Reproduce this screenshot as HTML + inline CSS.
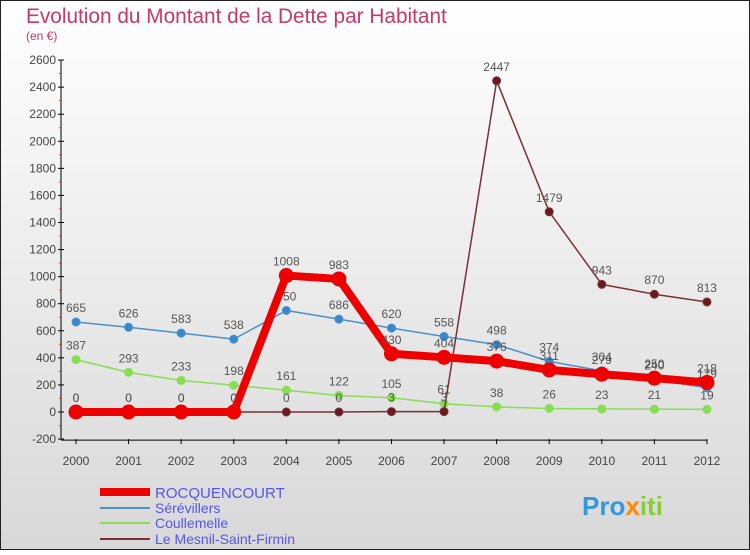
<!DOCTYPE html>
<html><head><meta charset="utf-8"><style>
body{margin:0;width:750px;height:550px;overflow:hidden;font-family:"Liberation Sans",sans-serif}
svg text{font-family:"Liberation Sans",sans-serif}
</style></head><body>
<svg width="750" height="550">
<defs><linearGradient id="bg" x1="0" y1="0" x2="0" y2="1"><stop offset="0" stop-color="#ffffff"/><stop offset="1" stop-color="#d8d8d8"/></linearGradient></defs>
<rect x="0.5" y="0.5" width="749" height="549" fill="url(#bg)" stroke="#222"/>
<text x="26" y="23" font-size="20.8" fill="#c8386a">Evolution du Montant de la Dette par Habitant</text>
<text x="26" y="40" font-size="12" fill="#c8386a">(en €)</text>
<g id="axes"></g><g id="series"></g>
<g>
<line x1="100" y1="492" x2="150" y2="492" stroke="#ee0000" stroke-width="8"/>
<text x="155" y="498" font-size="15" fill="#5555ee">ROCQUENCOURT</text>
<line x1="100" y1="508" x2="150" y2="508" stroke="#4a90c8" stroke-width="2"/>
<text x="155" y="513" font-size="14" fill="#5555ee">Sérévillers</text>
<line x1="100" y1="523" x2="150" y2="523" stroke="#88dd55" stroke-width="2"/>
<text x="155" y="528" font-size="14" fill="#5555ee">Coullemelle</text>
<line x1="100" y1="539" x2="150" y2="539" stroke="#7a3035" stroke-width="2"/>
<text x="155" y="544" font-size="14" fill="#5555ee">Le Mesnil-Saint-Firmin</text>
</g>
<text x="582" y="515" font-size="26" font-weight="bold" fill="#3399dd">Pro<tspan fill="#ff8800">x</tspan><tspan fill="#88cc33">iti</tspan></text>
</svg>
<script>
const years=[2000,2001,2002,2003,2004,2005,2006,2007,2008,2009,2010,2011,2012];
const yTicks=[-200,0,200,400,600,800,1000,1200,1400,1600,1800,2000,2200,2400,2600];
const rocq=[0,0,0,0,1008,983,430,404,376,311,279,250,218];
const serev=[665,626,583,538,750,686,620,558,498,374,304,240,179];
const coull=[387,293,233,198,161,122,105,61,38,26,23,21,19];
const mesnil=[0,0,0,0,0,0,3,3,2447,1479,943,870,813];
const NS="http://www.w3.org/2000/svg";
const X=i=>76+i*52.58;
const Y=v=>412-v*0.13536;
function mk(t,a,p){const e=document.createElementNS(NS,t);for(const k in a)e.setAttribute(k,a[k]);p.appendChild(e);return e;}
const ax=document.getElementById('axes'),sr=document.getElementById('series');
let l=mk('line',{x1:61,y1:Y(2600),x2:61,y2:Y(-200),stroke:'#000'},ax);


l=mk('line',{x1:61,y1:Y(-200)+1,x2:X(12),y2:Y(-200)+1,stroke:'#000'},ax);


yTicks.forEach(v=>{mk('line',{x1:58,x2:64,y1:Y(v),y2:Y(v),stroke:'#000'},ax);
if(v<2600)mk('line',{x1:59,x2:62,y1:Y(v+100),y2:Y(v+100),stroke:'#e33'},ax);
const t=mk('text',{x:56,y:Y(v)+4,'font-size':12,fill:'#444','text-anchor':'end'},ax);t.textContent=v;

});
years.forEach((y,i)=>{mk('line',{x1:X(i),x2:X(i),y1:Y(-200),y2:Y(-200)+5,stroke:'#000'},ax);
const t=mk('text',{x:X(i),y:Y(-200)+26,'font-size':12,fill:'#444','text-anchor':'middle'},ax);t.textContent=y;

});
function series(d,name,color,w,r,fill){const g=mk('g',{},sr);


mk('polyline',{points:d.map((v,i)=>X(i)+','+Y(v)).join(' '),fill:'none',stroke:color,'stroke-width':w,'stroke-linejoin':'round'},g);
d.forEach((v,i)=>{const c=mk('circle',{cx:X(i),cy:Y(v),r:r,fill:fill,stroke:color,'stroke-width':1},g);


const t=mk('text',{x:X(i),y:Y(v)-10,'font-size':12,fill:'#555','text-anchor':'middle'},g);t.textContent=v;

});}
series(coull,'coullemelle','#88dd55',1.5,4,'#88dd55');
series(serev,'serevillers','#4a90c8',1.5,4,'#3a88cc');
series(mesnil,'le-mesnil','#7a3035',1.5,4,'#6a1a20');
series(rocq,'rocquencourt','#ee0000',8,7,'#ee0000');
</script>
</body></html>
